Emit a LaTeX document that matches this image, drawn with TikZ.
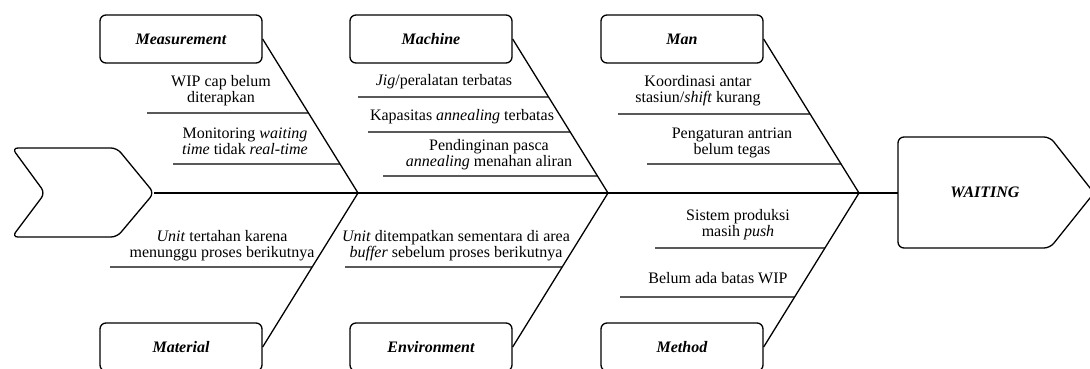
\documentclass[tikz,border=0pt]{standalone}
\usepackage{fontspec}
\setmainfont{Liberation Serif}
\begin{document}
\begin{tikzpicture}[x=1pt,y=-1pt,line width=1.3pt,
  every node/.style={font=\fontsize{16}{16}\selectfont},
  cat/.style={draw,rounded corners=6pt,minimum width=162pt,minimum height=48pt,font=\fontsize{16}{16}\selectfont\bfseries\itshape},
  cause/.style={align=center}]
\useasboundingbox (0,0) rectangle (1090,368);
% tail and head
\draw[rounded corners=6pt] (45,193) -- (12,148) -- (117,148) -- (154,193) -- (117,237) -- (12,237) -- cycle;
\draw[rounded corners=6pt] (898,193) -- (898,137) -- (1050,137) -- (1094,193) -- (1050,248) -- (898,248) -- cycle;
\node[font=\fontsize{16}{16}\selectfont\bfseries\itshape] (waiting) at (985,192) {WAITING};
\coordinate (tail) at (154,193);
\coordinate (head) at (898,193);
\coordinate (j1) at (358,193);
\coordinate (j2) at (608,193);
\coordinate (j3) at (859,193);
\draw (tail) -- (head);
% categories
\node[cat] (meas) at (181,39) {Measurement};
\node[cat] (mach) at (431,39) {Machine};
\node[cat] (man) at (682,39) {Man};
\node[cat] (mat) at (181,347) {Material};
\node[cat] (env) at (431,347) {Environment};
\node[cat] (meth) at (682,347) {Method};
\draw (meas.east) -- (j1);
\draw (mach.east) -- (j2);
\draw (man.east) -- (j3);
\draw (mat.east) -- (j1);
\draw (env.east) -- (j2);
\draw (meth.east) -- (j3);
% Measurement
\node[cause] (meas1) at (221,91) {WIP cap belum\\diterapkan};
\draw (147,113) -- (intersection of meas.east--j1 and 0,113--1,113);
\node[cause] (meas2) at (245,141) {Monitoring \textit{waiting}\\\textit{time} tidak \textit{real-time}};
\draw (173,164) -- (intersection of meas.east--j1 and 0,164--1,164);
% Machine
\node[cause] (mach1) at (444,82) {\textit{Jig}/peralatan terbatas};
\draw (358,97) -- (intersection of mach.east--j2 and 0,97--1,97);
\node[cause] (mach2) at (462,117) {Kapasitas \textit{annealing} terbatas};
\draw (368,132) -- (intersection of mach.east--j2 and 0,132--1,132);
\node[cause] (mach3) at (489,155) {Pendinginan pasca\\\textit{annealing} menahan aliran};
\draw (383,176) -- (intersection of mach.east--j2 and 0,176--1,176);
% Man
\node[cause] (man1) at (698,91) {Koordinasi antar\\stasiun/\textit{shift} kurang};
\draw (618,114) -- (intersection of man.east--j3 and 0,114--1,114);
\node[cause] (man2) at (732,143) {Pengaturan antrian\\belum tegas};
\draw (647,164) -- (intersection of man.east--j3 and 0,164--1,164);
% Material
\node[cause] (mat1) at (222,246) {\textit{Unit} tertahan karena\\menunggu proses berikutnya};
\draw (110,267) -- (intersection of mat.east--j1 and 0,267--1,267);
% Environment
\node[cause] (env1) at (456,246) {\textit{Unit} ditempatkan sementara di area\\\textit{buffer} sebelum proses berikutnya};
\draw (345,267) -- (intersection of env.east--j2 and 0,267--1,267);
% Method
\node[cause] (meth1) at (738,225) {Sistem produksi\\masih \textit{push}};
\draw (655,248) -- (intersection of meth.east--j3 and 0,248--1,248);
\node[cause] (meth2) at (718,278) {Belum ada batas WIP};
\draw (620,297) -- (intersection of meth.east--j3 and 0,297--1,297);
\end{tikzpicture}
\end{document}
